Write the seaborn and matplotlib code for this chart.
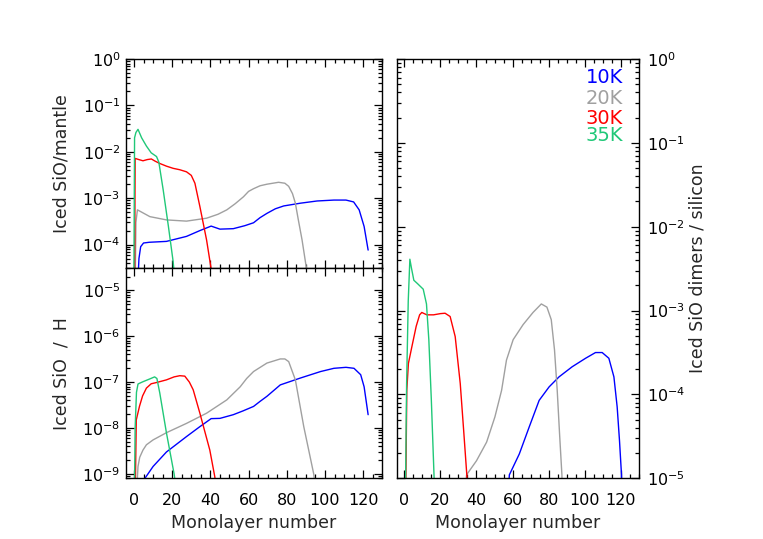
import numpy as np
import pandas as pd
import matplotlib
matplotlib.use("Agg")
import matplotlib.pyplot as plt
from matplotlib.ticker import MultipleLocator, LogLocator, NullFormatter
import seaborn as sns

# ---------------- data ----------------
temps = ["10K", "20K", "30K", "35K"]
colors = ["#0000ff", "#a0a0a0", "#ff0000", "#20c878"]

# Iced SiO / mantle (top-left)
m10_x = [1.8, 2.6, 3.5, 5.0, 8.0, 17, 27.5, 34.5, 40.4, 45, 52, 58, 62.6, 66, 69.6, 74, 78.4, 87.2, 95.9, 104.7, 111, 115, 117.9, 120.5, 122.6]
m10_y = [1e-5, 5e-5, 9e-5, 1.08e-4, 1.12e-4, 1.17e-4, 1.5e-4, 2.0e-4, 2.5e-4, 2.15e-4, 2.2e-4, 2.55e-4, 2.95e-4, 3.8e-4, 4.7e-4, 5.9e-4, 6.8e-4, 7.8e-4, 8.7e-4, 9.1e-4, 9.1e-4, 8.3e-4, 5.6e-4, 2.45e-4, 7.6e-5]
m20_x = [0.3, 1.0, 1.8, 4, 8.3, 17, 27.5, 38, 44, 48.6, 53, 57.3, 60, 62.6, 66, 69.6, 75.7, 79, 81, 83, 84.5, 86, 88, 91]
m20_y = [1e-6, 3e-4, 5.6e-4, 5.0e-4, 4.0e-4, 3.4e-4, 3.2e-4, 3.7e-4, 4.5e-4, 5.6e-4, 7.6e-4, 1.07e-3, 1.4e-3, 1.6e-3, 1.85e-3, 2.0e-3, 2.2e-3, 2.1e-3, 1.8e-3, 1.25e-3, 7.8e-4, 3.5e-4, 1.26e-4, 2e-5]
m30_x = [0.2, 0.6, 2.5, 4.7, 7, 9.1, 11, 13.5, 17, 20.5, 24, 27.5, 30, 31.9, 34.5, 38, 40.4, 42]
m30_y = [1e-6, 7.2e-3, 6.8e-3, 6.4e-3, 6.8e-3, 7.0e-3, 6.3e-3, 5.6e-3, 4.9e-3, 4.4e-3, 4.1e-3, 3.7e-3, 3.1e-3, 2.1e-3, 6.6e-4, 1.26e-4, 3e-5, 1e-5]
m35_x = [-0.2, 0.3, 1.0, 2.1, 4, 6.5, 9, 11.8, 13, 15.3, 18, 20.5, 21.5]
m35_y = [1e-6, 2.0e-2, 2.6e-2, 3.05e-2, 2.0e-2, 1.33e-2, 9.5e-3, 7.9e-3, 6.0e-3, 1.5e-3, 2.5e-4, 4.3e-5, 1.5e-5]

# Iced SiO / H (bottom-left)
h10_x = [5.0, 5.9, 10, 17, 27.5, 34.5, 40.4, 45, 52, 57, 62.6, 66, 69.6, 76.6, 87.2, 97.7, 104.7, 111, 115.2, 118.7, 120.5, 122.6]
h10_y = [5e-10, 8.2e-10, 1.45e-9, 3.0e-9, 6.5e-9, 1.07e-8, 1.6e-8, 1.62e-8, 1.95e-8, 2.35e-8, 2.95e-8, 3.8e-8, 4.9e-8, 8.7e-8, 1.23e-7, 1.7e-7, 2.0e-7, 2.1e-7, 2.0e-7, 1.45e-7, 7.9e-8, 1.95e-8]
h20_x = [0.4, 1.5, 2.1, 3.0, 4.7, 6.5, 10, 17, 27.5, 38, 48.6, 55.6, 59, 62.6, 69.6, 76.6, 79, 81, 84.5, 88.9, 94.1, 95]
h20_y = [1e-11, 5e-10, 1.45e-9, 2.3e-9, 3.3e-9, 4.3e-9, 5.5e-9, 7.9e-9, 1.26e-8, 2.1e-8, 4.1e-8, 7.9e-8, 1.2e-7, 1.7e-7, 2.6e-7, 3.2e-7, 3.2e-7, 2.8e-7, 1.12e-7, 1.07e-8, 1.0e-9, 5e-10]
h30_x = [0.2, 0.8, 1.2, 2.9, 4.5, 6.5, 9, 11.8, 17, 21, 24, 26.6, 29, 31, 34.5, 39.7, 42.3, 43]
h30_y = [1e-11, 1e-9, 1.5e-8, 3.0e-8, 5e-8, 7.4e-8, 9.2e-8, 9.8e-8, 1.12e-7, 1.3e-7, 1.38e-7, 1.35e-7, 1.0e-7, 6.8e-8, 2.1e-8, 3.3e-9, 8.7e-10, 5e-10]
h35_x = [-0.2, 0.6, 1.3, 2.1, 4.7, 8.2, 10.8, 12, 13.5, 17, 21, 22]
h35_y = [1e-11, 1e-8, 6e-8, 9.1e-8, 1.02e-7, 1.17e-7, 1.3e-7, 1.2e-7, 5.8e-8, 7.8e-9, 1.0e-9, 5e-10]

# Iced SiO dimers / silicon (right)
d10_x = [57.8, 58.2, 63.7, 69.2, 74.7, 80.2, 85.7, 93.0, 100.4, 105.9, 109.6, 113.3, 116.1, 117.9, 119.2, 120.3, 120.6]
d10_y = [8e-6, 1.1e-5, 1.95e-5, 4.1e-5, 8.5e-5, 1.23e-4, 1.62e-4, 2.14e-4, 2.7e-4, 3.16e-4, 3.16e-4, 2.7e-4, 1.62e-4, 7.1e-5, 2.8e-5, 1.1e-5, 5e-6]
d20_x = [34.0, 34.5, 40.0, 45.6, 50.2, 53.9, 56.6, 60.3, 65.8, 71.3, 75.9, 79.0, 81.4, 83.2, 84.7, 86.0, 87.3, 87.6]
d20_y = [8e-6, 1.1e-5, 1.62e-5, 2.7e-5, 5.4e-5, 1.12e-4, 2.57e-4, 4.5e-4, 6.8e-4, 9.5e-4, 1.2e-3, 1.1e-3, 7.8e-4, 3.4e-4, 1.12e-4, 3.4e-5, 1.1e-5, 5e-6]
d30_x = [0.8, 0.9, 1.4, 2.3, 4.2, 6.6, 8.5, 9.7, 12.5, 16.2, 20.0, 22.6, 25.4, 28.2, 31.0, 32.9, 34.7, 35.2]
d30_y = [5e-6, 1e-5, 1.12e-4, 2.35e-4, 3.7e-4, 6.5e-4, 8.9e-4, 9.5e-4, 8.9e-4, 8.9e-4, 9.2e-4, 9.3e-4, 8.5e-4, 4.9e-4, 1.35e-4, 3.7e-5, 1.05e-5, 5e-6]
d35_x = [0.6, 0.75, 1.3, 2.2, 3.1, 4.0, 5.3, 7.3, 10.5, 12.3, 13.6, 15.0, 16.5, 17.0]
d35_y = [5e-6, 1e-5, 1.35e-4, 1.3e-3, 4.1e-3, 3.2e-3, 2.3e-3, 2.1e-3, 1.8e-3, 1.2e-3, 4.5e-4, 8.5e-5, 1.05e-5, 5e-6]

xticks_major = 20
xticks_minor = 5


def make_df(series):
    frames = []
    for t, (xs, ys) in zip(temps, series):
        frames.append(pd.DataFrame({"x": xs, "y": ys, "T": t}))
    return pd.concat(frames, ignore_index=True)


df_m = make_df([(m10_x, m10_y), (m20_x, m20_y), (m30_x, m30_y), (m35_x, m35_y)])
df_h = make_df([(h10_x, h10_y), (h20_x, h20_y), (h30_x, h30_y), (h35_x, h35_y)])
df_d = make_df([(d10_x, d10_y), (d20_x, d20_y), (d30_x, d30_y), (d35_x, d35_y)])

# ---------------- style ----------------
sns.set_style("ticks")
plt.rcParams["font.family"] = ["DejaVu Sans"]
plt.rcParams["mathtext.default"] = "regular"
palette = dict(zip(temps, colors))

fig = plt.figure(figsize=(7.63, 5.39), dpi=100)
ax_m = fig.add_axes([0.1651, 0.5019, 0.3359, 0.3886])
ax_h = fig.add_axes([0.1651, 0.1126, 0.3359, 0.3893])
ax_d = fig.add_axes([0.5199, 0.1126, 0.3176, 0.7779])

for ax, df in [(ax_m, df_m), (ax_h, df_h), (ax_d, df_d)]:
    ax.set_yscale("log")
    sns.lineplot(data=df, x="x", y="y", hue="T", hue_order=temps, palette=palette,
                 estimator=None, sort=False, legend=False, linewidth=1.0, ax=ax)
    ax.set_xlim(-4.2, 130)
    ax.xaxis.set_major_locator(MultipleLocator(xticks_major))
    ax.xaxis.set_minor_locator(MultipleLocator(xticks_minor))
    ax.yaxis.set_major_locator(LogLocator(base=10, numticks=30))
    ax.yaxis.set_minor_locator(LogLocator(base=10, subs=np.arange(2, 10), numticks=30))
    ax.yaxis.set_minor_formatter(NullFormatter())
    ax.tick_params(which="both", direction="in", top=True, right=True, bottom=True, left=True,
                   colors="black", labelsize=11.5, width=0.9)
    ax.tick_params(which="major", length=5.5)
    ax.tick_params(which="minor", length=3)
    ax.tick_params(axis="x", pad=10.5)
    ax.tick_params(axis="y", pad=4)
    for s in ax.spines.values():
        s.set_color("black")
        s.set_linewidth(1.0)
    ax.set_xlabel("")
    ax.set_ylabel("")

ax_m.set_ylim(3.05e-5, 1)
ax_h.set_ylim(8e-10, 3e-5)
ax_d.set_ylim(1e-5, 1)

ax_m.tick_params(axis="x", labelbottom=False)
ax_m.xaxis.label.set_visible(False)
ax_d.tick_params(axis="y", labelleft=False, labelright=True, pad=5.5)

ax_m.set_ylabel("Iced SiO/mantle", fontsize=12.5)
ax_h.set_ylabel("Iced SiO  /  H", fontsize=12.5)
ax_d.yaxis.set_label_position("right")
ax_d.set_ylabel("Iced SiO dimers / silicon", fontsize=12.5, rotation=90)
ax_h.set_xlabel("Monolayer number", fontsize=12.5)
ax_d.set_xlabel("Monolayer number", fontsize=12.5)

for ax, xc in [(ax_m, -0.25), (ax_h, -0.25)]:
    ax.yaxis.set_label_coords(xc, 0.5)
    ax.yaxis.label.set_ha("center")
    ax.yaxis.label.set_va("center")
ax_d.yaxis.set_label_coords(1.24, 0.5)
ax_d.yaxis.label.set_ha("center")
ax_d.yaxis.label.set_va("center")
ax_h.xaxis.set_label_coords(0.5, -0.214)
ax_h.xaxis.label.set_va("center")
ax_d.xaxis.set_label_coords(0.5, -0.107)
ax_d.xaxis.label.set_va("center")

leg_y = [0.955, 0.907, 0.859, 0.817]
for t, c, yy in zip(temps, colors, leg_y):
    ax_d.text(0.934, yy, t, color=c, fontsize=14, ha="right", va="center", transform=ax_d.transAxes)

fig.savefig("out.png", dpi=100)
